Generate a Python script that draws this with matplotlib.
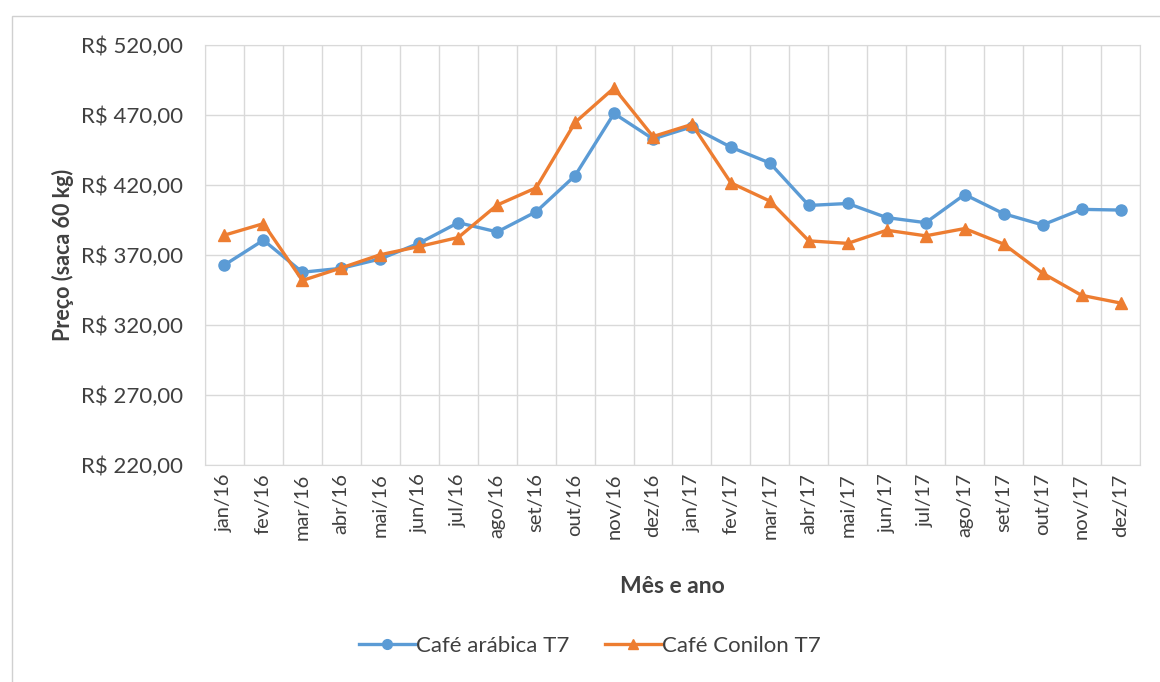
import matplotlib
matplotlib.use("Agg")
import matplotlib.pyplot as plt
from matplotlib.patches import Rectangle
from matplotlib.ticker import FuncFormatter
from matplotlib.lines import Line2D

# monthly prices, R$ per 60 kg bag
meses = ["jan/16", "fev/16", "mar/16", "abr/16", "mai/16", "jun/16",
         "jul/16", "ago/16", "set/16", "out/16", "nov/16", "dez/16",
         "jan/17", "fev/17", "mar/17", "abr/17", "mai/17", "jun/17",
         "jul/17", "ago/17", "set/17", "out/17", "nov/17", "dez/17"]
arabica = [362.9, 380.6, 357.7, 360.5, 367.2, 378.5, 393.1, 386.5, 400.9,
           426.7, 471.1, 452.9, 461.6, 447.0, 435.7, 405.4, 406.8, 396.7,
           393.1, 413.2, 399.5, 391.5, 402.6, 402.1]
conilon = [384.2, 392.4, 351.8, 360.8, 370.2, 376.1, 382.5, 405.7, 418.0,
           464.7, 489.3, 454.6, 463.3, 421.5, 408.5, 380.1, 378.3, 387.7,
           383.7, 388.9, 377.8, 357.0, 341.2, 335.7]
y_ticks = [220, 270, 320, 370, 420, 470, 520]

AZUL = "#5B9BD5"
LARANJA = "#ED7D31"
GRADE = "#D9D9D9"
TEXTO = "#404040"

plt.rcParams["font.family"] = ["Lato", "DejaVu Sans"]

fig = plt.figure(figsize=(11.6, 6.82), dpi=100)
ax = fig.add_axes([205/1160, 1 - 465/682, 935/1160, 420/682])

# outer chart frame
fig.patches.append(Rectangle((12/1160, -0.05), 1.1, 1 - 16/682 + 0.05,
                             transform=fig.transFigure, fill=False,
                             edgecolor="#D0D0D0", linewidth=1.0))

x = range(len(meses))
ax.plot(x, arabica, color=AZUL, linewidth=2.4, marker="o", markersize=8,
        label="Café arábica T7", zorder=3)
ax.plot(x, conilon, color=LARANJA, linewidth=2.4, marker="^", markersize=8,
        label="Café Conilon T7", zorder=3)

ax.set_xlim(-0.5, len(meses) - 0.5)
ax.set_ylim(y_ticks[0], y_ticks[-1])
ax.set_yticks(y_ticks)
ax.yaxis.set_major_formatter(FuncFormatter(
    lambda v, p: "R$ " + f"{v:.2f}".replace(".", ",")))
ax.set_xticks(list(x))
ax.set_xticklabels(meses, rotation=90)
ax.set_xticks([i - 0.5 for i in range(len(meses) + 1)], minor=True)

ax.grid(True, axis="y", which="major", color=GRADE, linewidth=1)
ax.grid(True, axis="x", which="minor", color=GRADE, linewidth=1)
ax.set_axisbelow(True)
for s in ax.spines.values():
    s.set_color(GRADE)
ax.tick_params(axis="both", which="both", length=0, colors=TEXTO)
ax.tick_params(axis="y", pad=16, labelsize=16)
ax.tick_params(axis="x", pad=6, labelsize=14.5)

ax.set_ylabel("Preço (saca 60 kg)", fontsize=15.5, fontweight="bold",
              color=TEXTO, labelpad=5)
ax.set_xlabel("Mês e ano", fontsize=16.5, fontweight="bold", color=TEXTO,
              labelpad=26)

handles = [Line2D([], [], color=AZUL, linewidth=2.4, marker="o", markersize=7),
           Line2D([], [], color=LARANJA, linewidth=2.4, marker="^", markersize=7)]
fig.legend(handles, ["Café arábica T7", "Café Conilon T7"], loc="center",
           bbox_to_anchor=(590/1160, 1 - 646/682), ncol=2, frameon=False,
           fontsize=16, handlelength=2.5, handletextpad=0.05,
           columnspacing=1.6, labelcolor=TEXTO)

fig.savefig("out.png", dpi=100, facecolor="white")
